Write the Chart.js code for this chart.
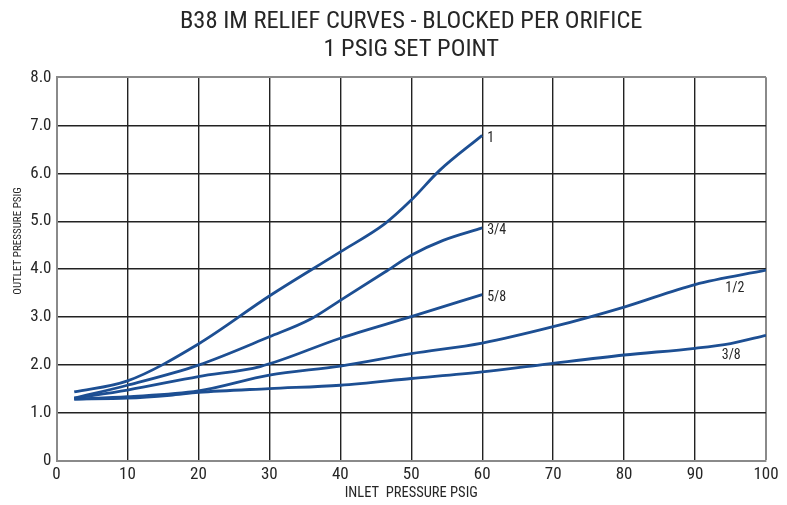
<!DOCTYPE html>
<html>
<head>
<meta charset="utf-8">
<script src="https://cdn.jsdelivr.net/npm/chart.js@4.4.1/dist/chart.umd.min.js"></script>
<style>
html,body{margin:0;padding:0;background:#fff;}
#wrap{width:787px;height:505px;position:relative;}
</style>
</head>
<body>
<div id="wrap"><canvas id="c" width="787" height="505"></canvas></div>
<script>
// ---- data ----
const seriesLabels = ['1', '3/4', '5/8', '1/2', '3/8'];

const x1  = [2.5, 10, 20, 30, 40, 46.3, 50, 54, 60];
const y1  = [1.44, 1.67, 2.44, 3.44, 4.36, 4.95, 5.44, 6.06, 6.79];

const x34 = [2.5, 10, 20, 30, 35.7, 40, 46.3, 50, 54.5, 60];
const y34 = [1.31, 1.58, 2.0, 2.59, 2.95, 3.35, 3.94, 4.29, 4.6, 4.86];

const x58 = [2.5, 10, 20, 28.7, 40, 50, 60];
const y58 = [1.31, 1.48, 1.76, 1.97, 2.56, 3.01, 3.47];

const x12 = [2.5, 10, 20, 30, 40, 50, 60, 70, 80, 90, 100];
const y12 = [1.29, 1.34, 1.46, 1.79, 1.98, 2.24, 2.46, 2.8, 3.21, 3.68, 3.98];

const x38 = [2.5, 10, 16, 20, 30, 40, 50, 60, 68, 80, 90, 95, 100];
const y38 = [1.29, 1.31, 1.37, 1.43, 1.51, 1.58, 1.72, 1.86, 2.0, 2.21, 2.35, 2.45, 2.62];

const xTicks = [0, 10, 20, 30, 40, 50, 60, 70, 80, 90, 100];
const yTicks = ['0', '1.0', '2.0', '3.0', '4.0', '5.0', '6.0', '7.0', '8.0'];

const titleLines = ['B38 IM RELIEF CURVES - BLOCKED PER ORIFICE', '1 PSIG SET POINT'];
const xTitle = 'INLET  PRESSURE PSIG';
const yTitle = 'OUTLET PRESSURE PSIG';

// ---- chart ----
const FONT = "'Liberation Sans Narrow', 'Roboto Condensed', 'DejaVu Sans Condensed', 'Liberation Sans', sans-serif";
const LINE = '#1d4f93';
const GRID = '#222222';
const FRAME = '#8a8a8a';
const TEXT = '#262626';

function pts(xs, ys) { return xs.map((x, i) => ({x: x, y: ys[i]})); }
const seriesData = [pts(x1, y1), pts(x34, y34), pts(x58, y58), pts(x12, y12), pts(x38, y38)];
// label placement: 'end' = right of last point, number = below curve at that x
const labelPlace = ['end', 'end', 'end', 95.6, 95.1];

const datasets = seriesData.map((d, i) => ({
  label: seriesLabels[i],
  data: d,
  borderColor: LINE,
  borderWidth: 2.8,
  pointRadius: 0,
  fill: false,
  showLine: true,
  cubicInterpolationMode: 'monotone',
  labelPlace: labelPlace[i]
}));

const annot = {
  id: 'annot',
  afterDatasetsDraw(chart) {
    const ctx = chart.ctx;
    const xs = chart.scales.x, ys = chart.scales.y;
    ctx.save();
    ctx.fillStyle = TEXT;
    ctx.font = "14px " + FONT;
    chart.data.datasets.forEach((ds, i) => {
      const d = ds.data;
      if (ds.labelPlace === 'end') {
        const p = d[d.length - 1];
        ctx.textAlign = 'left';
        ctx.textBaseline = 'middle';
        ctx.fillText(ds.label, xs.getPixelForValue(p.x) + 5, ys.getPixelForValue(p.y) + 3);
      } else {
        const xv = ds.labelPlace;
        let yv = d[0].y;
        for (let k = 1; k < d.length; k++) {
          if (d[k].x >= xv) {
            const t = (xv - d[k-1].x) / (d[k].x - d[k-1].x);
            yv = d[k-1].y + t * (d[k].y - d[k-1].y);
            break;
          }
        }
        ctx.textAlign = 'center';
        ctx.textBaseline = 'top';
        ctx.fillText(ds.label, xs.getPixelForValue(xv), ys.getPixelForValue(yv) + 5);
      }
    });
    // y axis title
    ctx.translate(18, 241);
    ctx.rotate(-Math.PI / 2);
    ctx.font = "11px " + FONT;
    ctx.textAlign = 'center';
    ctx.textBaseline = 'middle';
    ctx.fillText(yTitle, 0, 0);
    ctx.restore();
  }
};

new Chart(document.getElementById('c'), {
  type: 'scatter',
  data: { datasets: datasets },
  plugins: [annot],
  options: {
    responsive: false,
    animation: false,
    layout: { padding: { left: 0, right: 21, top: 0, bottom: 0 } },
    plugins: {
      legend: { display: false },
      tooltip: { enabled: false },
      title: {
        display: true,
        text: titleLines,
        fullSize: false,
        color: TEXT,
        font: { family: FONT, size: 24.5, weight: 'normal', lineHeight: 1.15 },
        padding: { top: 8, bottom: 13 }
      }
    },
    scales: {
      x: {
        type: 'linear',
        min: 0, max: 100,
        afterBuildTicks(s) { s.ticks = xTicks.map(v => ({value: v})); },
        afterFit(s) { s.height = 44; },
        ticks: {
          color: TEXT,
          font: { family: FONT, size: 17 },
          padding: 4,
          maxRotation: 0,
          callback: (v) => String(v)
        },
        grid: {
          drawTicks: false,
          color: (c) => (c.tick && c.tick.value === 100) ? FRAME : GRID,
          lineWidth: (c) => (c.tick && c.tick.value === 100) ? 2 : 1.4
        },
        border: { color: FRAME, width: 2 },
        title: {
          display: true,
          text: xTitle,
          color: TEXT,
          font: { family: FONT, size: 14.5 },
          padding: { top: 0, bottom: 3 }
        }
      },
      y: {
        type: 'linear',
        min: 0, max: 8,
        afterBuildTicks(s) { s.ticks = yTicks.map((t, i) => ({value: i})); },
        afterFit(s) { s.width = 56.5; },
        ticks: {
          color: TEXT,
          font: { family: FONT, size: 17 },
          padding: 5,
          callback: (v) => yTicks[v]
        },
        grid: {
          drawTicks: false,
          color: (c) => (c.tick && c.tick.value === 8) ? FRAME : GRID,
          lineWidth: (c) => (c.tick && c.tick.value === 8) ? 2 : 1.4
        },
        border: { color: FRAME, width: 2 }
      }
    }
  }
});
</script>
</body>
</html>
